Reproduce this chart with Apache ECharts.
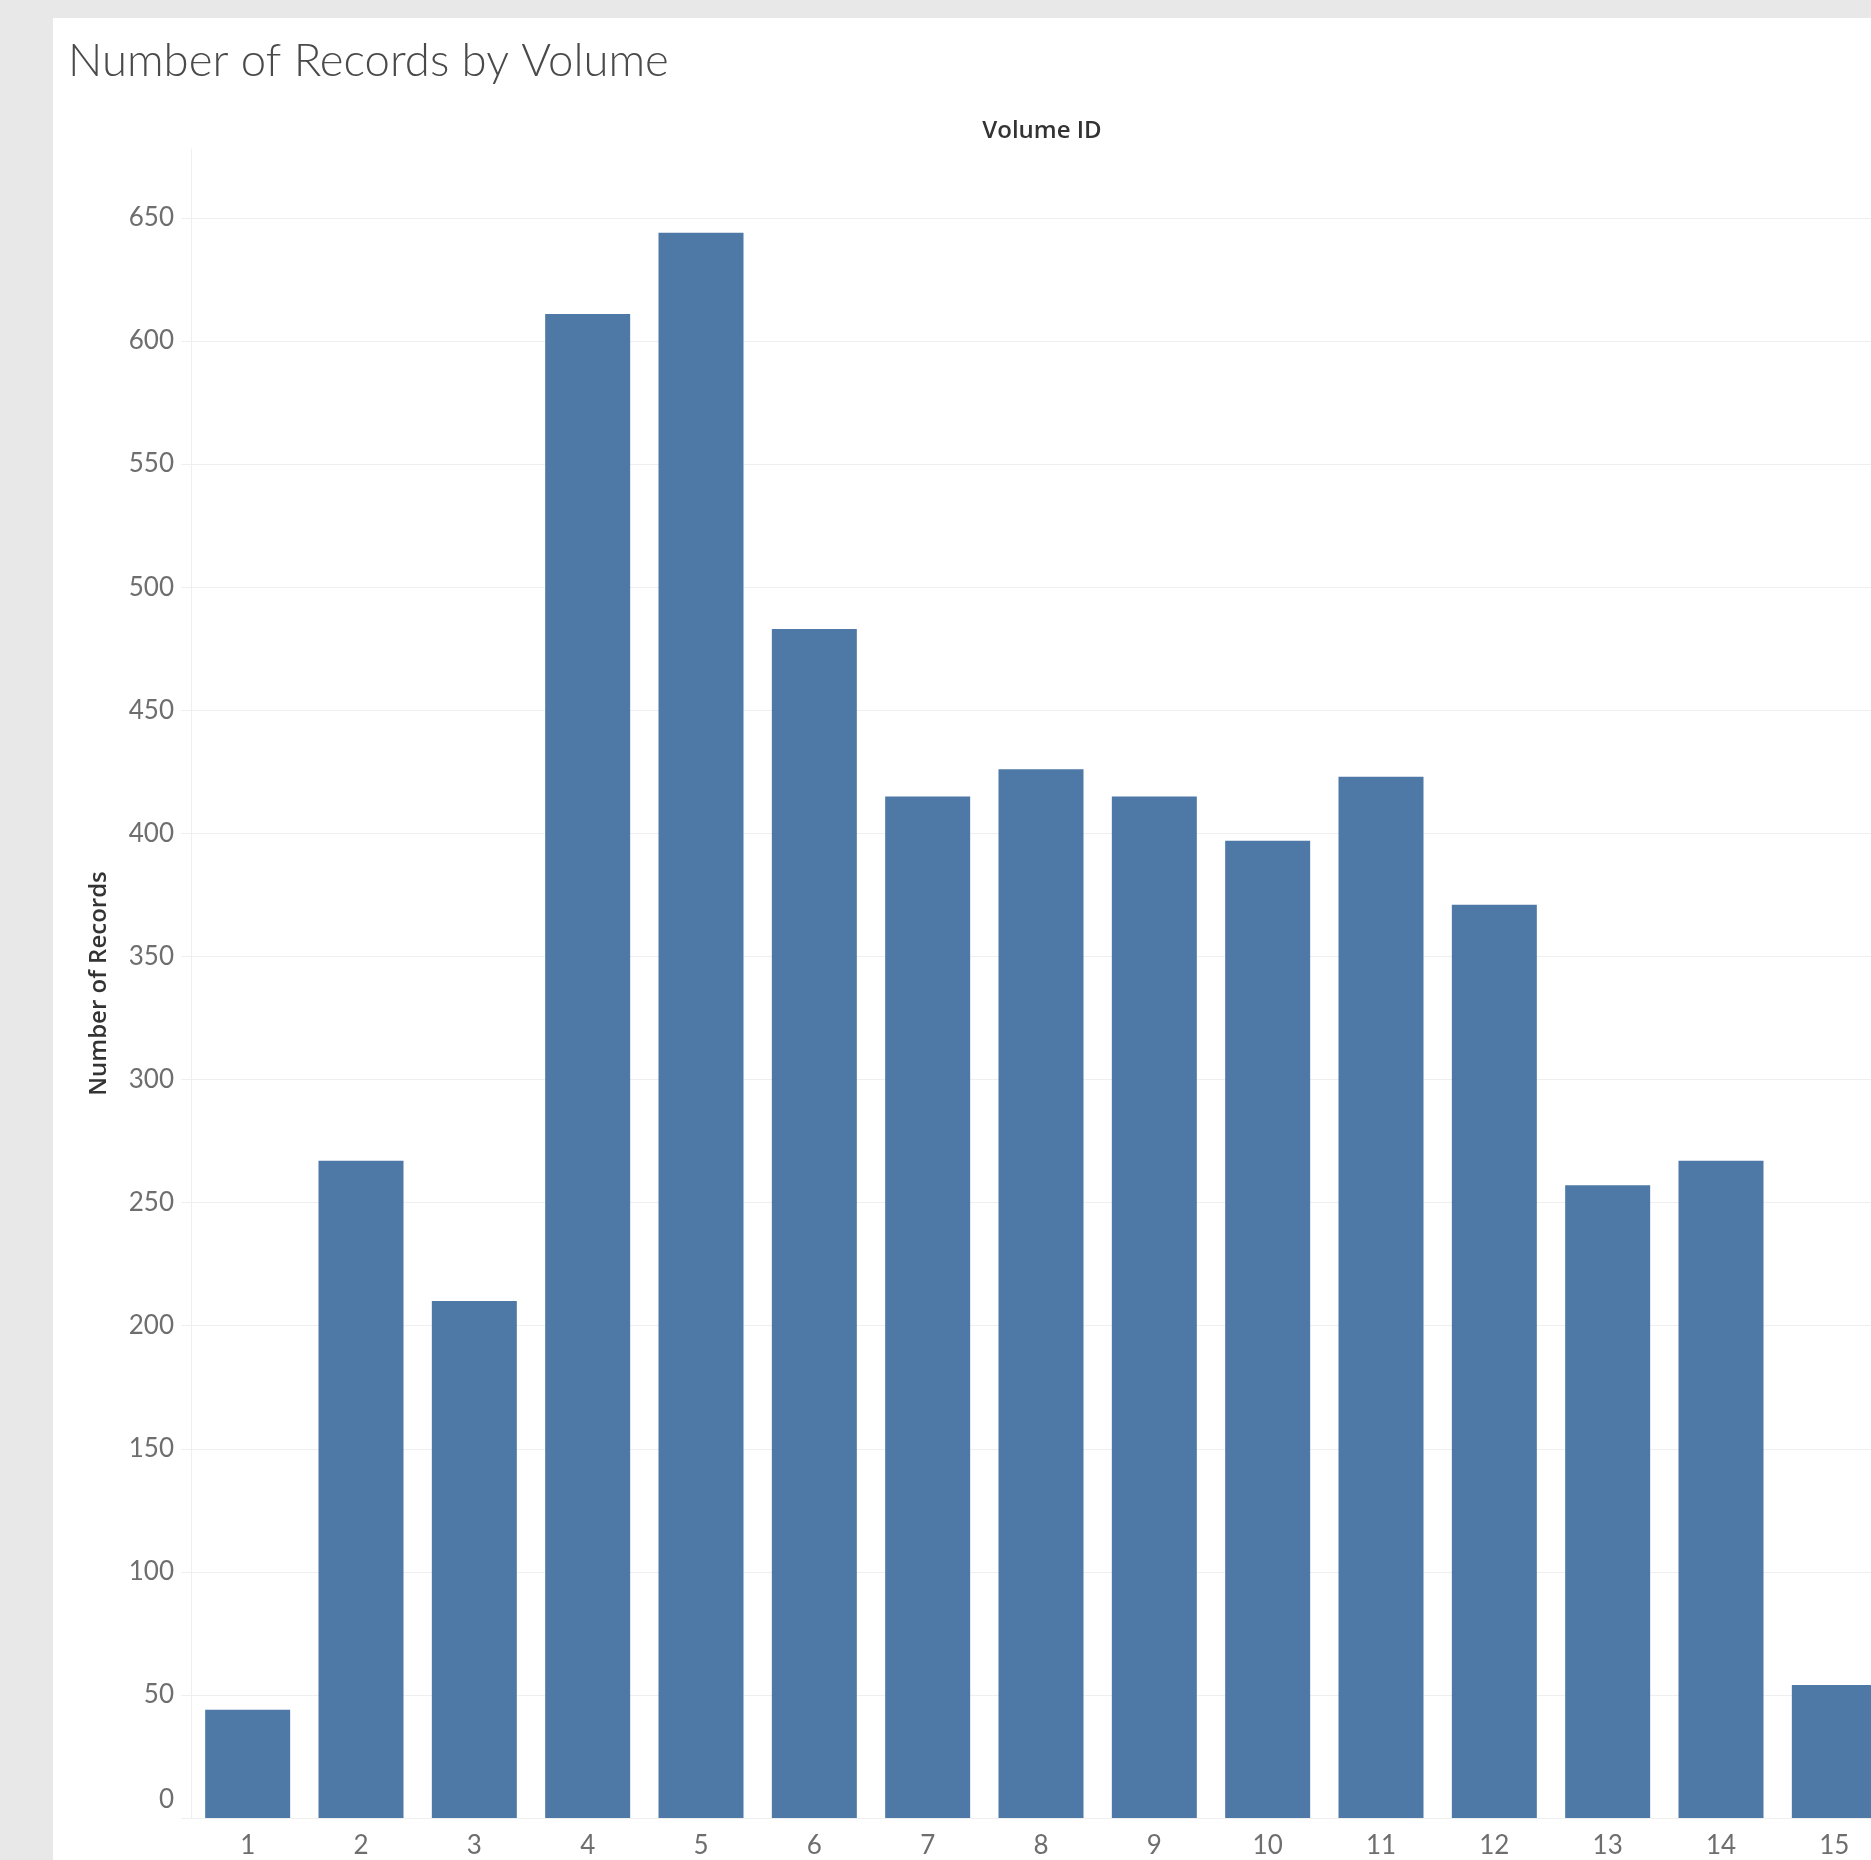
<!DOCTYPE html>
<html>
<head>
<meta charset="utf-8">
<title>Number of Records by Volume</title>
<script src="https://cdn.jsdelivr.net/npm/echarts@6/dist/echarts.min.js"></script>
<style>
  html, body { margin: 0; padding: 0; background: #e8e8e8; }
  body { width: 1871px; height: 1860px; position: relative; overflow: hidden; }
  /* the plot runs past the right edge of the view, so the canvas is wider than what shows */
  #chart { position: absolute; left: 53px; top: 18px; width: 1900px; height: 1842px; background: #ffffff; }
</style>
</head>
<body>
<div id="chart"></div>
<script>
// Volume IDs along the x axis
const volumeIds = ['1', '2', '3', '4', '5', '6', '7', '8', '9', '10', '11', '12', '13', '14', '15'];
// Record count per volume
const recordCounts = [44, 267, 210, 611, 644, 483, 415, 426, 415, 397, 423, 371, 257, 267, 54];
// Value-axis tick spacing and labelled range
const tickStep = 50;
const tickTop = 650;

const chart = echarts.init(document.getElementById('chart'), null, { renderer: 'canvas' });

const faint = '#efefef';
const labelColor = '#6e6e6e';

chart.setOption({
  backgroundColor: '#ffffff',
  animation: false,
  title: [
    {
      text: 'Number of Records by Volume',
      left: 10,
      top: 15,
      textStyle: { fontFamily: 'Lato', fontWeight: 300, fontSize: 45.5, color: '#4a4a4a' }
    },
    {
      text: 'Volume ID',
      left: 984,
      top: 96,
      textAlign: 'center',
      textStyle: { fontFamily: 'Open Sans', fontWeight: 600, fontSize: 24, color: '#333333' }
    }
  ],
  grid: { left: 138, top: 131, width: 1700, bottom: 42, containLabel: false },
  xAxis: {
    type: 'category',
    data: volumeIds,
    axisLine: { show: true, lineStyle: { color: faint, width: 1 } },
    axisTick: { show: false },
    axisLabel: { color: labelColor, fontFamily: 'Lato', fontSize: 26, margin: 15 },
    splitLine: { show: false }
  },
  yAxis: {
    type: 'value',
    min: 0,
    max: 678,
    interval: tickStep,
    name: 'Number of Records',
    nameLocation: 'middle',
    nameGap: 80,
    nameTextStyle: { fontFamily: 'Open Sans', fontWeight: 600, fontSize: 24, color: '#333333' },
    axisLine: { show: true, lineStyle: { color: faint, width: 1 } },
    axisTick: { show: true, length: 10, lineStyle: { color: faint } },
    axisLabel: {
      color: labelColor, fontFamily: 'Lato', fontSize: 26, margin: 17,
      showMaxLabel: false,
      formatter: v => {
        if (v % tickStep !== 0 || v > tickTop) return '';
        // the zero label sits a little above the baseline
        return v === 0 ? '{zero|0}' : String(v);
      },
      rich: {
        zero: { color: labelColor, fontFamily: 'Lato', fontSize: 26, padding: [0, 0, 36, 0] }
      }
    },
    splitLine: { show: true, showMaxLine: false, lineStyle: { color: faint, width: 1 } }
  },
  series: [{
    type: 'bar',
    data: recordCounts,
    barCategoryGap: '25%',
    itemStyle: { color: '#4e79a7' },
    clip: false
  }]
});
</script>
</body>
</html>
